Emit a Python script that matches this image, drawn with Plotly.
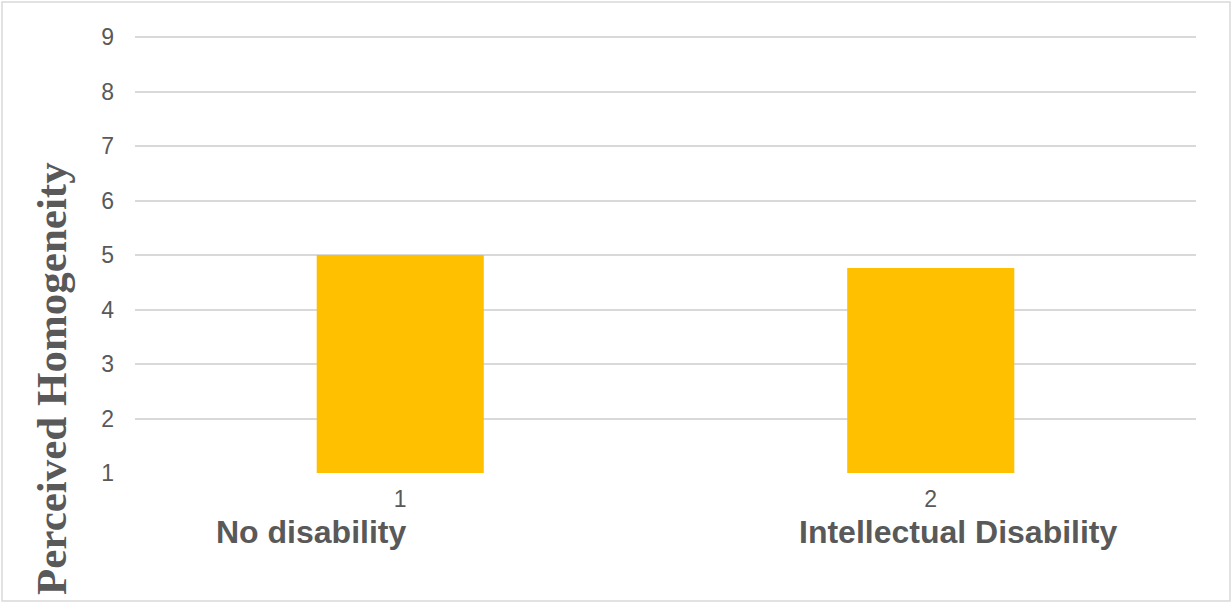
import plotly.graph_objects as go

categories = ["1", "2"]
category_names = ["No disability", "Intellectual Disability"]
values = [5.0, 4.76]
y_ticks = [1, 2, 3, 4, 5, 6, 7, 8, 9]

W, H = 1232, 603
L, R, T, B = 135, 36, 34, 130
UNIT = (473 - 37) / 8.0
Y_TOP = 9 + 3 / UNIT

fig = go.Figure()
fig.add_trace(go.Bar(
    x=categories, y=[v - 1 for v in values], base=1,
    marker=dict(color="#FFC000", line=dict(width=0)),
    width=0.315, hoverinfo="skip",
))

fig.update_layout(
    width=W, height=H,
    margin=dict(l=L, r=R, t=T, b=B, pad=0),
    paper_bgcolor="white", plot_bgcolor="white",
    showlegend=False,
    font=dict(family="Liberation Sans, Arial", color="#595959"),
    xaxis=dict(
        type="category", showgrid=False, zeroline=False,
        showline=False, ticks="", tickfont=dict(size=23, color="#595959"),
        ticklabelstandoff=10,
    ),
    yaxis=dict(
        range=[1, Y_TOP], tickvals=y_ticks, showgrid=True,
        gridcolor="#d9d9d9", gridwidth=1.5, zeroline=False,
        showline=False, ticks="", tickfont=dict(size=23, color="#595959"),
        ticklabelstandoff=20,
    ),
)

def px_x(px):
    return (px - L) / (W - L - R)

def px_y(py):
    return 1 - (py - T) / (H - T - B)

# category names (bold, offset below tick labels)
name_pos = [311, 958]
for name, cx in zip(category_names, name_pos):
    fig.add_annotation(
        text=f"<b>{name}</b>", x=px_x(cx), y=px_y(532), xref="paper", yref="paper",
        showarrow=False, font=dict(size=32, color="#595959", family="Liberation Sans, Arial"),
        xanchor="center", yanchor="middle",
    )

# y-axis title
fig.add_annotation(
    text="<b>Perceived Homogeneity</b>", x=px_x(51), y=px_y(379),
    xref="paper", yref="paper", showarrow=False, textangle=-90,
    font=dict(size=43, color="#595959", family="Liberation Serif, Times New Roman"),
    xanchor="center", yanchor="middle",
)

# outer chart border
fig.add_shape(
    type="rect", xref="paper", yref="paper",
    x0=px_x(2), x1=px_x(W - 2), y0=px_y(H - 2), y1=px_y(2),
    line=dict(color="#d9d9d9", width=1.5), fillcolor="rgba(0,0,0,0)", layer="below",
)

fig.write_html("out.html")
